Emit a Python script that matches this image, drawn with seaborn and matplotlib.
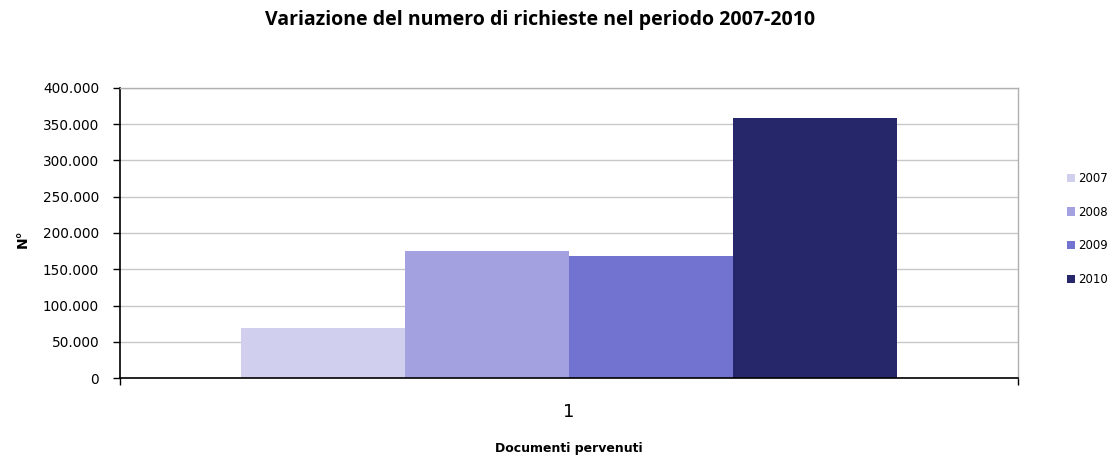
import pandas as pd
import numpy as np
import matplotlib.pyplot as plt
import seaborn as sns
from matplotlib.ticker import FuncFormatter

# Valori
categoria = ['1']
anni = ['2007', '2008', '2009', '2010']
richieste = [69000, 175000, 168000, 359000]
colori = ['#D0D0EE', '#A3A1E0', '#7272D0', '#26266B']

data = pd.DataFrame({
    'Categoria': categoria * len(anni),
    'Anno': anni,
    'Richieste': richieste,
})

sns.set_style('white')
plt.rcParams['font.family'] = ['DejaVu Sans']
plt.rcParams['text.color'] = 'black'
plt.rcParams['axes.labelcolor'] = 'black'
plt.rcParams['xtick.color'] = 'black'
plt.rcParams['ytick.color'] = 'black'

fig = plt.figure(figsize=(11.07, 4.59), dpi=100)
ax = fig.add_axes([120 / 1107, 1 - 378 / 459, 898 / 1107, 290 / 459])

sns.barplot(data=data, x='Categoria', y='Richieste', hue='Anno',
            palette=colori, width=0.73, saturation=1, ax=ax,
            edgecolor='none', linewidth=0)

ax.set_xlim(-0.5, 0.5)
ax.set_ylim(0, 400000)
ax.set_yticks(np.arange(0, 400001, 50000))
ax.yaxis.set_major_formatter(FuncFormatter(lambda v, p: f'{int(v):,}'.replace(',', '.')))
ax.tick_params(axis='y', labelsize=9.8, length=5, width=1, color='black', left=True, pad=10)
ax.tick_params(axis='x', labelsize=13, length=0, pad=18)
ax.set_xticks([-0.5, 0.5], minor=True)
ax.tick_params(axis='x', which='minor', length=5, width=1, color='black', bottom=True)

ax.grid(axis='y', color='#C8C8C8', linewidth=1)
ax.set_axisbelow(True)
for s in ['left', 'bottom']:
    ax.spines[s].set_color('black')
    ax.spines[s].set_linewidth(1.2)
for s in ['top', 'right']:
    ax.spines[s].set_color('#B0B0B0')
    ax.spines[s].set_linewidth(1)

ax.set_xlabel('Documenti pervenuti', fontsize=9, fontweight='bold', labelpad=15)
ax.set_ylabel('N°', fontsize=10, fontweight='bold')
ax.yaxis.set_label_coords(-0.101, 0.48)

fig.suptitle('Variazione del numero di richieste nel periodo 2007-2010',
             fontsize=14, fontweight='bold', x=540 / 1107, y=1 - 20 / 459, va='center',
             family=['Open Sans', 'DejaVu Sans'])

handles, labels = ax.get_legend_handles_labels()
ax.legend(handles, labels, loc='center left',
          bbox_to_anchor=(1062 / 1107, 1 - 229 / 459), bbox_transform=fig.transFigure,
          frameon=False, fontsize=8.5, handlelength=0.7, handleheight=0.7,
          handletextpad=0.3, labelspacing=1.75, borderaxespad=0)

plt.savefig('out.png', dpi=100)
